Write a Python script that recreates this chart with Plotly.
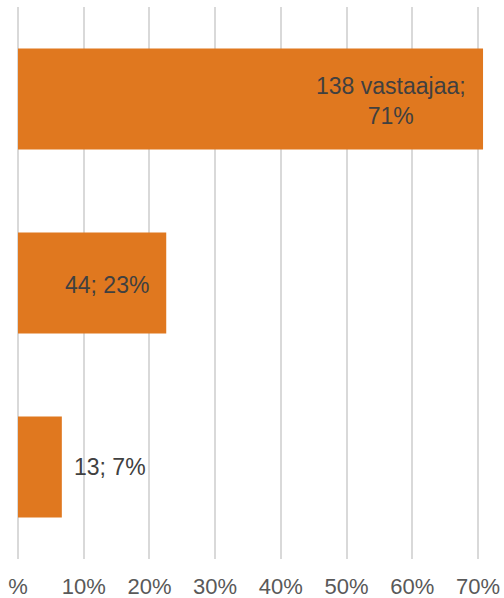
import plotly.graph_objects as go

categories = ["c1", "c2", "c3"]
counts = [138, 44, 13]
percents = [70.77, 22.56, 6.67]
labels = ["138 vastaajaa;<br>71%", "44; 23%", "13; 7%"]
tick_vals = [0, 10, 20, 30, 40, 50, 60, 70]
tick_text = ["%", "10%", "20%", "30%", "40%", "50%", "60%", "70%"]

FONT = "Liberation Sans, Arial"

fig = go.Figure()
fig.add_trace(go.Bar(
    y=categories, x=percents, orientation="h",
    marker=dict(color="#E0781F", line=dict(width=0)),
    hoverinfo="skip",
))

label_pos = ["inside", "inside", "outside"]
for cat, val, lab, pos in zip(categories, percents, labels, label_pos):
    if pos == "inside":
        fig.add_annotation(x=val, y=cat, xref="x", yref="y", text=lab,
                           showarrow=False, xanchor="right", xshift=-15, yshift=-2,
                           align="center",
                           font=dict(family=FONT, size=23, color="#404040"))
    else:
        fig.add_annotation(x=val, y=cat, xref="x", yref="y", text=lab,
                           showarrow=False, xanchor="left", xshift=10,
                           font=dict(family=FONT, size=23, color="#404040"))

fig.update_layout(
    width=504, height=598,
    margin=dict(l=18, r=0, t=7, b=39, autoexpand=False),
    paper_bgcolor="white", plot_bgcolor="white",
    bargap=0.45, showlegend=False,
    font=dict(family=FONT, size=22, color="#595959"),
)
fig.update_xaxes(range=[0, 73.96], tickvals=tick_vals, ticktext=tick_text,
                 automargin=False,
                 showgrid=True, gridcolor="#D9D9D9", gridwidth=1.5,
                 zeroline=True, zerolinecolor="#D9D9D9", zerolinewidth=1.5,
                 showline=False, ticks="outside", ticklen=8, tickcolor="rgba(0,0,0,0)",
                 tickfont=dict(size=22, color="#595959"))
fig.update_yaxes(categoryorder="array", categoryarray=categories[::-1],
                 automargin=False,
                 showticklabels=False, showgrid=False, zeroline=False, showline=False)

fig.write_html("out.html", config={"displayModeBar": False},
               post_script="document.body.style.margin='0';document.body.style.overflow='hidden';")
